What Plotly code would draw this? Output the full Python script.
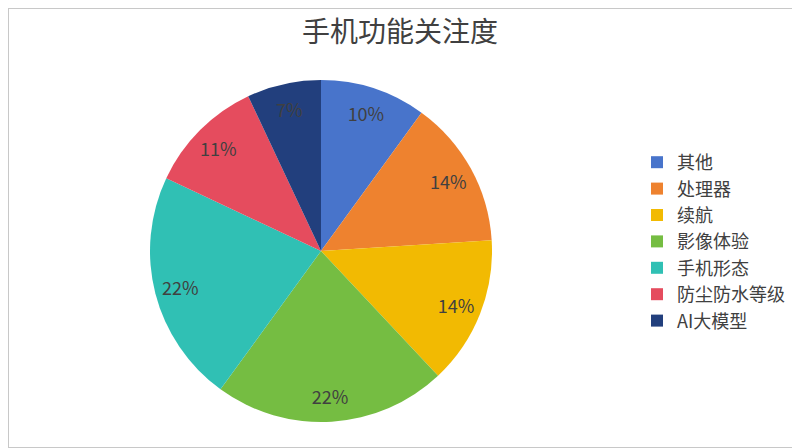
import plotly.graph_objs as go

labels = ["其他", "处理器", "续航", "影像体验", "手机形态", "防尘防水等级", "AI大模型"]
values = [10, 14, 14, 22, 22, 11, 7]
colors = ["#4874CB", "#EE822F", "#F2BA02", "#75BD42", "#30C0B4", "#E54C5E", "#223F7D"]

# page has an 8px body margin, so the figure is 792x440 and sits at (8, 8)
W, H = 792, 440
font = "Noto Sans CJK SC"
dom = dict(x=[142 / W, 484 / W], y=[1 - 414 / H, 1 - 72 / H])

fig = go.Figure()
# coloured slices
fig.add_trace(go.Pie(
    labels=labels, values=values, sort=False, direction="clockwise", rotation=0,
    marker=dict(colors=colors, line=dict(width=0)),
    textinfo="none", domain=dom, hoverinfo="label+percent",
))
# transparent ring just to put the percent labels near the rim
fig.add_trace(go.Pie(
    labels=labels, values=values, sort=False, direction="clockwise", rotation=0,
    hole=0.7, showlegend=False,
    marker=dict(colors=["rgba(0,0,0,0)"] * len(values), line=dict(width=0)),
    texttemplate="%{percent:.0%}", textposition="inside", insidetextorientation="horizontal",
    textfont=dict(color="#404040", size=18, family=font),
    domain=dom, hoverinfo="skip",
))

fig.update_layout(
    width=W, height=H,
    margin=dict(l=0, r=0, t=0, b=0),
    paper_bgcolor="white",
    font=dict(family=font, color="#404040"),
    title=dict(text="手机功能关注度", x=392 / W, xanchor="center", y=1 - 24 / H, yanchor="middle",
               font=dict(size=28, color="#404040", family=font)),
    legend=dict(x=629 / W, y=1 - 136 / H, xanchor="left", yanchor="top",
                font=dict(size=18, color="#404040", family=font),
                itemwidth=30, tracegroupgap=0),
    shapes=[dict(type="rect", xref="paper", yref="paper", x0=0, y0=0, x1=1, y1=1,
                 line=dict(color="#c8c8c8", width=2))],
)

fig.write_html("out.html")
